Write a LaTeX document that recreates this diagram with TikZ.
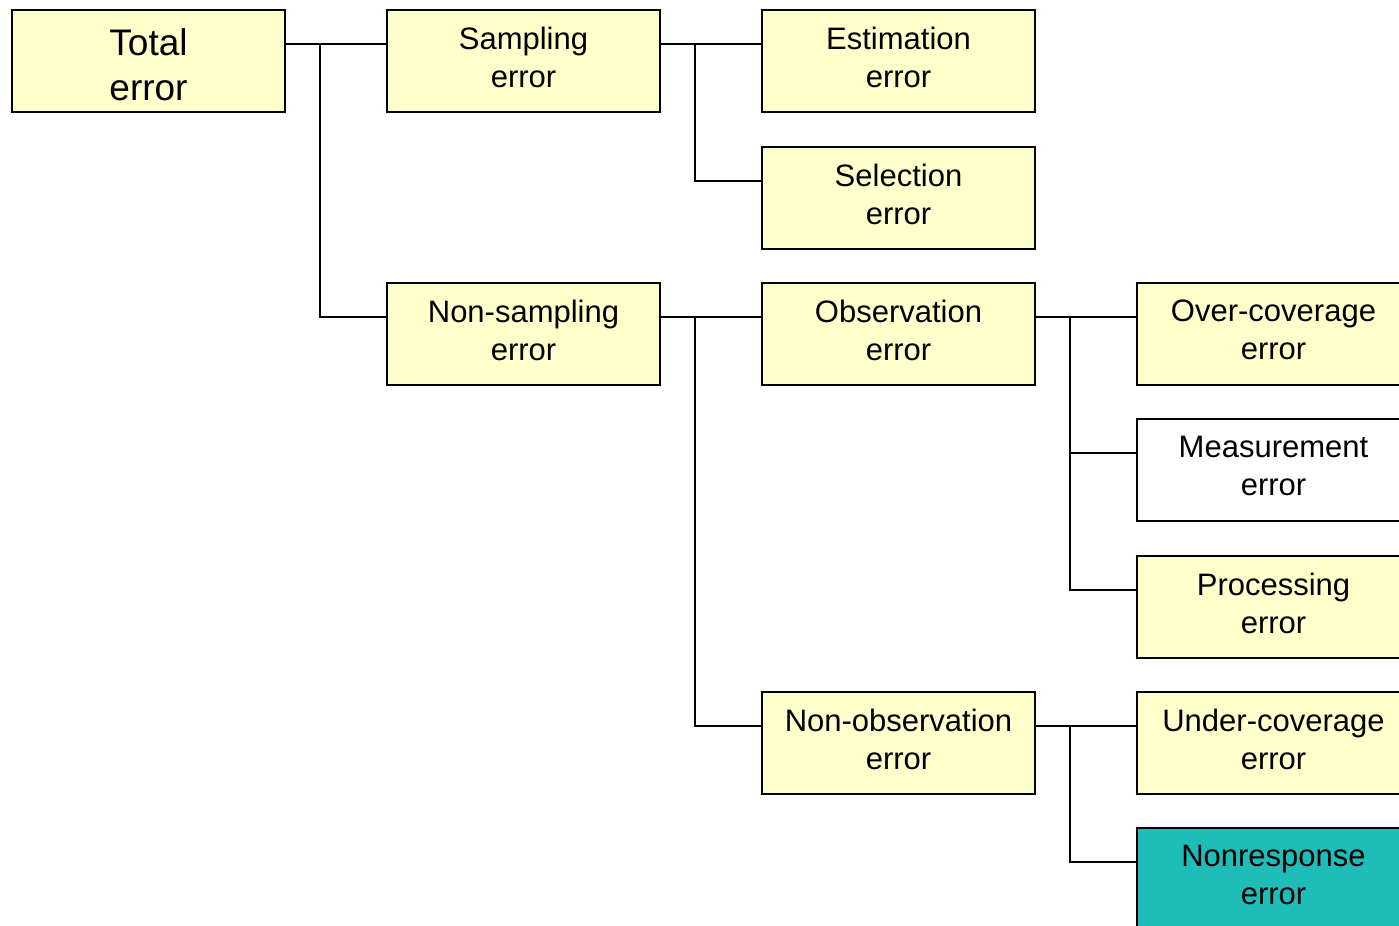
\documentclass[tikz,border=0pt]{standalone}
\usepackage{fontspec}
\setmainfont{Liberation Sans}
\usetikzlibrary{positioning}
\definecolor{boxyellow}{HTML}{FFFFCC}
\definecolor{boxteal}{HTML}{1FBDBA}
\tikzset{errbox/.style={draw, fill=boxyellow, line width=1pt, minimum width=136.5pt,
    minimum height=51pt, inner sep=0pt, text depth=4pt, align=center,
    font=\fontsize{15.5}{19}\selectfont},
  link/.style={line width=1pt}}

\begin{document}
\begin{tikzpicture}[x=0.5pt,y=-0.5pt]
    \useasboundingbox (0,0) rectangle (1399,926);
    \clip (0,0) rectangle (1399,926);
    \node[errbox,text depth=0pt,font=\fontsize{18.5}{22.5}\selectfont] (total) at (148.5,61) {\rule{0pt}{17.4pt}Total\\error};
    \node[errbox] (samp) at (523.5,61) {Sampling\\error};
    \node[errbox] (est) at (898.5,61) {Estimation\\error};
    \node[errbox] (sel) at (898.5,198) {Selection\\error};
    \node[errbox] (nonsamp) at (523.5,334) {Non-sampling\\error};
    \node[errbox] (obs) at (898.5,334) {Observation\\error};
    \node[errbox] (over) at (1273.5,334) {Over-coverage\\error};
    \node[errbox,fill=white] (meas) at (1273.5,470) {Measurement\\error};
    \node[errbox] (proc) at (1273.5,607) {Processing\\error};
    \node[errbox] (nonobs) at (898.5,743) {Non-observation\\error};
    \node[errbox] (under) at (1273.5,743) {Under-coverage\\error};
    \node[errbox,fill=boxteal] (nonresp) at (1273.5,879) {Nonresponse\\error};
    \foreach \A/\B in {total/samp,total/nonsamp,samp/est,samp/sel,nonsamp/obs,nonsamp/nonobs,
      obs/over,obs/meas,obs/proc,nonobs/under,nonobs/nonresp}
    {\draw[link] ([yshift=8.5pt]\A.east) -- ++(17pt,0) |- ([yshift=8.5pt]\B.west);}
\end{tikzpicture}
\end{document}
